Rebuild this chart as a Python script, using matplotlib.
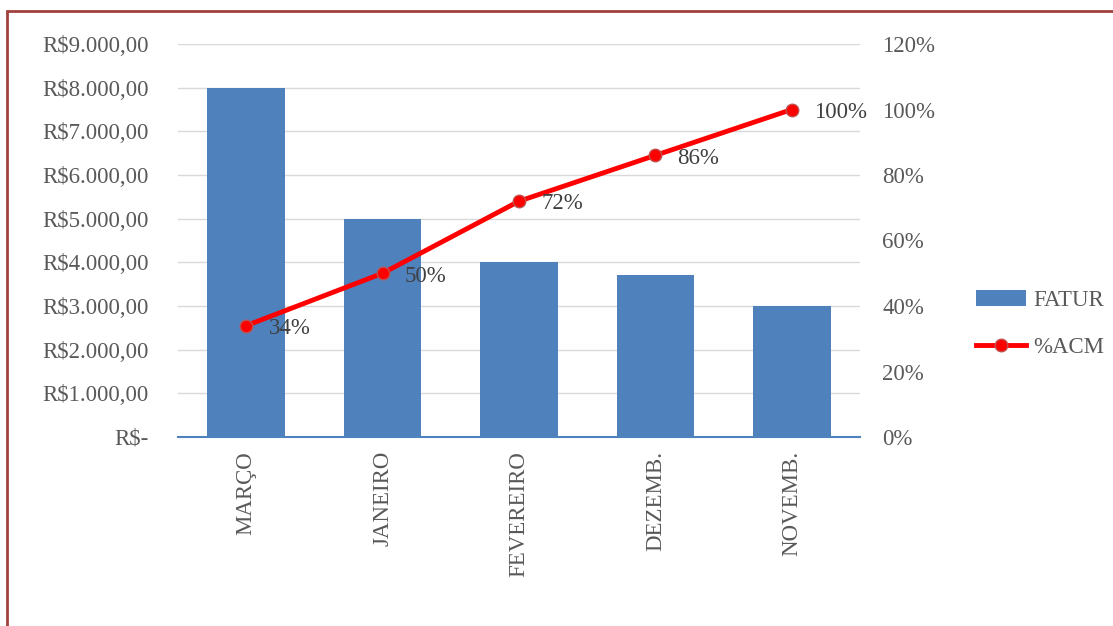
import matplotlib.pyplot as plt
from matplotlib.patches import Rectangle
from matplotlib.ticker import FuncFormatter
from matplotlib.lines import Line2D
from matplotlib.patches import Patch

plt.rcParams['font.family'] = ['Liberation Serif', 'DejaVu Serif']

# -------------------------
# Data
# -------------------------
months = ["MARÇO", "JANEIRO", "FEVEREIRO", "DEZEMB.", "NOVEMB."]
fatur = [8000, 5000, 4000, 3700, 3000]
acm = [34, 50, 72, 86, 100]

bar_color = "#4F81BD"
text_color = "#595959"
fs = 16.5

fig = plt.figure(figsize=(11.13, 6.26), dpi=100)
ax = fig.add_axes([178/1113, 1 - 437/626, (860-178)/1113, (437-44)/626])
ax2 = ax.twinx()

x = range(len(months))
ax.bar(x, fatur, width=0.57, color=bar_color, zorder=2)
ax.set_xlim(-0.5, len(months) - 0.5)
ax.set_ylim(0, 9000)
ax.set_yticks(range(0, 9001, 1000))


def brl(v, pos):
    if v == 0:
        return "R$-"
    s = f"{v:,.2f}".replace(",", "X").replace(".", ",").replace("X", ".")
    return "R$" + s


ax.yaxis.set_major_formatter(FuncFormatter(brl))
ax.grid(axis="y", color="#D9D9D9", linewidth=1, zorder=0)
ax.set_axisbelow(True)
ax.set_xticks(list(x))
ax.set_xticklabels(months, rotation=90, va="top")

# right axis: cumulative percent
ax2.plot(list(x), acm, color="#FF0000", linewidth=3.5, marker="o", markersize=9,
         markerfacecolor="#FF0000", markeredgecolor="#C0504D", markeredgewidth=1, zorder=3)
ax2.set_ylim(0, 120)
ax2.set_yticks(range(0, 121, 20))
ax2.yaxis.set_major_formatter(FuncFormatter(lambda v, p: f"{v:.0f}%"))
for xi, p in zip(x, acm):
    ax2.annotate(f"{p}%", (xi, p), xytext=(16, -2), textcoords="offset points",
                 ha="left", va="center", fontsize=fs, color="#404040")

for a in (ax, ax2):
    for s in a.spines.values():
        s.set_visible(False)
    a.tick_params(length=0, labelsize=fs, labelcolor=text_color)
ax.spines["bottom"].set_visible(True)
ax.spines["bottom"].set_color(bar_color)
ax.spines["bottom"].set_linewidth(1.5)
ax.tick_params(axis="y", pad=21)
ax.tick_params(axis="x", pad=10)
ax2.tick_params(axis="y", pad=16)

handles = [Patch(facecolor=bar_color, label="FATUR"),
           Line2D([0], [0], color="#FF0000", linewidth=3.5, marker="o", markersize=9,
                  markerfacecolor="#FF0000", markeredgecolor="#C0504D", label="%ACM")]
fig.legend(handles=handles, loc="center left", bbox_to_anchor=(955/1113, 1 - 324/626),
           frameon=False, fontsize=fs, labelcolor=text_color, handlelength=2.2,
           labelspacing=1.1, handletextpad=0.3)

# outer border
fig.patches.append(Rectangle((7/1113, -0.1), 1.2, 1 - 11/626 + 0.1, transform=fig.transFigure,
                             fill=False, edgecolor="#A0413C", linewidth=2))

fig.savefig("out.png", dpi=100)
